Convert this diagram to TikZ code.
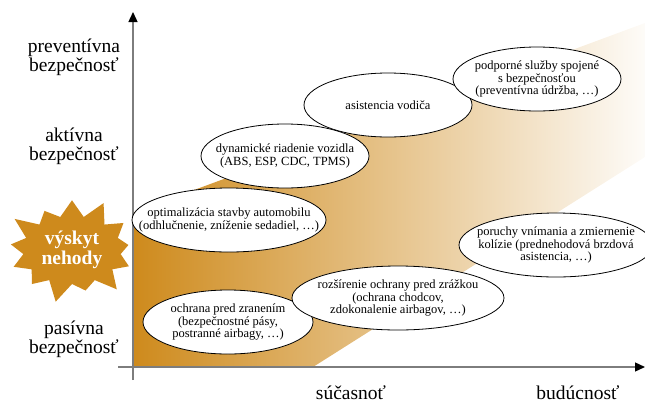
\documentclass[tikz,border=0pt]{standalone}
\usepackage{fontspec}
\setmainfont{Liberation Serif}
\usetikzlibrary{positioning, shapes.geometric, shapes.symbols, arrows.meta}
\definecolor{nehoda}{RGB}{206,138,28}
\definecolor{osa}{RGB}{125,125,125}

\begin{document}
\begin{tikzpicture}[
        x=1pt, y=-1pt,
        bublina/.style={ellipse, draw=black, fill=white, line width=0.8pt, inner sep=-100pt, minimum height=64pt, align=center, font=\fontsize{12.5}{12.3}\selectfont},
        popis/.style={align=center, font=\fontsize{19.5}{19}\selectfont},
        os/.style={draw=osa, line width=1.3pt, -{Triangle[color=black, length=10pt, width=9pt]}},
    ]
        \useasboundingbox (0,0) rectangle (645,402);
        % pas od sucasnosti do buducnosti
        \shade[left color=nehoda, right color=nehoda!3] (132,367) -- (132,213) -- (645,23) -- (645,157) -- (313,367) -- cycle;
        \coordinate (XZAC) at (118,367);
        \coordinate (XKON) at (645,367);
        \coordinate (YZAC) at (133,380);
        \coordinate (YKON) at (133,12);
        \draw[os] (XZAC) -- (XKON);
        \draw[os] (YZAC) -- (YKON);

        \node[popis] (PREV) at (74,57) {preventívna\\bezpečnosť};
        \node[popis] (AKT) at (74,146) {aktívna\\bezpečnosť};
        \node[popis] (PAS) at (74,339) {pasívna\\bezpečnosť};
        \node[popis, anchor=base] (SUC) at (351,399) {súčasnoť};
        \node[popis, anchor=base] (BUD) at (578,399) {budúcnosť};

        \node[starburst, fill=nehoda, starburst points=13, starburst point height=22pt, minimum width=142pt, minimum height=112pt, inner sep=0pt, text=white, align=center, font=\fontsize{19.5}{20}\selectfont\bfseries] (NEHODA) at (72,250) {výskyt\\nehody};

        \node[bublina, minimum width=194pt] (OPT) at (229,220) {optimalizácia stavby automobilu\\(odhlučnenie, zníženie sedadiel, …)};
        \node[bublina, minimum width=168pt] (ASIST) at (388,105) {asistencia vodiča};
        \node[bublina, minimum width=168pt] (DYN) at (285,156) {dynamické riadenie vozidla\\(ABS, ESP, CDC, TPMS)};
        \node[bublina, minimum width=168pt] (SLUZBY) at (537,79) {podporné služby spojené\\s bezpečnosťou\\(preventívna údržba, …)};
        \node[bublina, minimum width=194pt] (PORUCHY) at (556,245) {poruchy vnímania a zmiernenie\\kolízie (prednehodová brzdová\\asistencia, …)};
        \node[bublina, minimum width=170pt] (OCHRANA) at (228,322) {ochrana pred zranením\\(bezpečnostné pásy,\\postranné airbagy, …)};
        \node[bublina, minimum width=212pt] (ROZSIR) at (398,298) {rozšírenie ochrany pred zrážkou\\(ochrana chodcov,\\zdokonalenie airbagov, …)};
    \end{tikzpicture}
\end{document}
